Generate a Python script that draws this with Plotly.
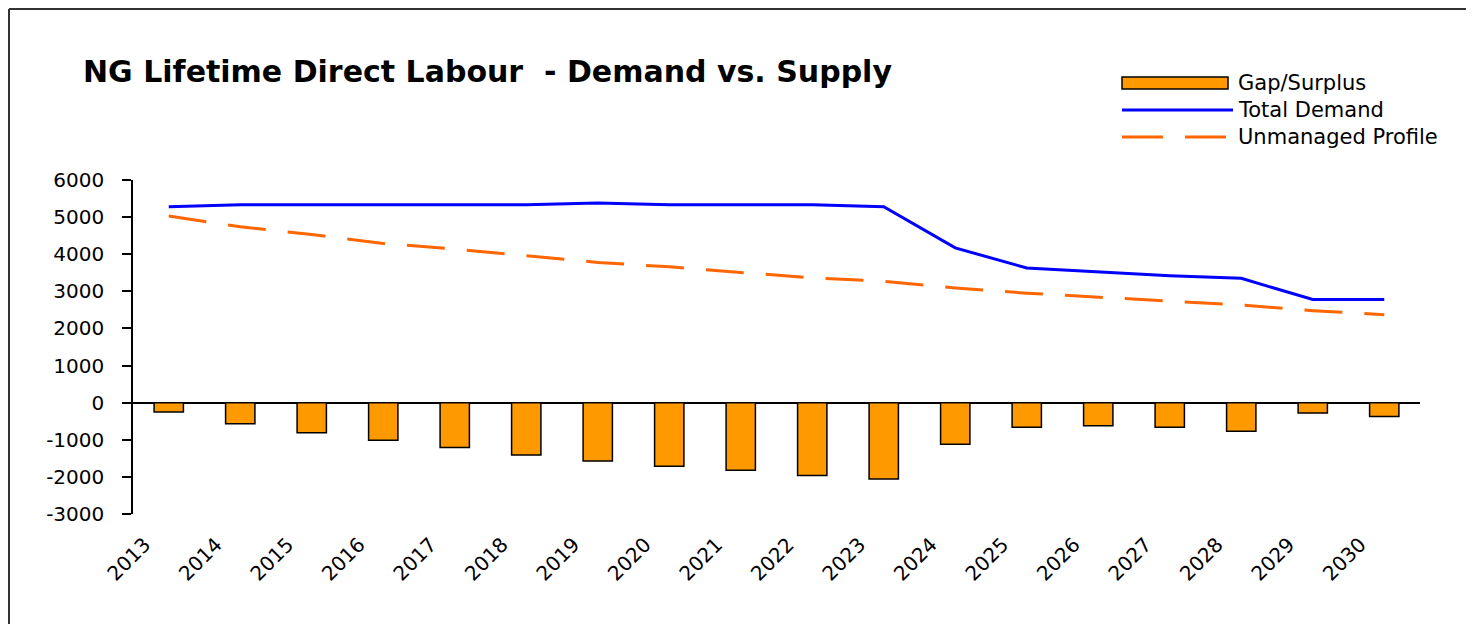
import plotly.graph_objects as go

years = [str(y) for y in range(2013, 2031)]
gap_surplus = [-250, -570, -810, -1010, -1210, -1410, -1570, -1710, -1820, -1960, -2060,
               -1120, -660, -620, -660, -770, -280, -370]
total_demand = [5280, 5330, 5330, 5330, 5330, 5330, 5380, 5330, 5330, 5330, 5280,
                4170, 3630, 3530, 3420, 3350, 2780, 2780]
unmanaged_profile = [5030, 4740, 4530, 4290, 4140, 3960, 3780, 3660, 3500, 3360, 3270,
                     3090, 2950, 2840, 2730, 2630, 2480, 2370]
y_ticks = [-3000, -2000, -1000, 0, 1000, 2000, 3000, 4000, 5000, 6000]
y_tick_labels = [str(v) for v in y_ticks]

title_text = "NG Lifetime Direct Labour  - Demand vs. Supply"
legend_names = ["Gap/Surplus", "Total Demand", "Unmanaged Profile"]

BAR_COLOR = "#FF9900"
DEMAND_COLOR = "#0000FF"
PROFILE_COLOR = "#FF6600"
FONT = "DejaVu Sans"

fig = go.Figure()
fig.add_trace(go.Bar(x=years, y=gap_surplus, name=legend_names[0],
                     marker=dict(color=BAR_COLOR, line=dict(color="black", width=1.5)),
                     showlegend=False))
fig.add_trace(go.Scatter(x=years, y=total_demand, name=legend_names[1], mode="lines",
                         line=dict(color=DEMAND_COLOR, width=3), showlegend=False))
fig.add_trace(go.Scatter(x=years, y=unmanaged_profile, name=legend_names[2], mode="lines",
                         line=dict(color=PROFILE_COLOR, width=3, dash="38px,22px"),
                         showlegend=False))

# page offset (body margin) and geometry in page pixels
OFF = 8
W, H = 1474 - OFF, 624 - OFF
PL, PR, PT, PB = 133, 1420, 180, 514   # plot area in page pixels
L, T = PL - OFF, PT - OFF
R, B = W - (PR - OFF), H - (PB - OFF)
pw, ph = PR - PL, PB - PT


def px(x):
    return (x - PL) / pw


def py(y):
    return (PB - y) / ph


shapes = [
    # outer frame
    dict(type="line", xref="paper", yref="paper", x0=px(9), x1=px(9), y0=py(9), y1=py(700),
         line=dict(color="#333333", width=2)),
    dict(type="line", xref="paper", yref="paper", x0=px(9), x1=px(1500), y0=py(9), y1=py(9),
         line=dict(color="#333333", width=2)),
    # legend swatches
    dict(type="rect", xref="paper", yref="paper", x0=px(1122), x1=px(1228), y0=py(89), y1=py(77),
         fillcolor=BAR_COLOR, line=dict(color="black", width=1.5)),
    dict(type="line", xref="paper", yref="paper", x0=px(1122), x1=px(1233), y0=py(110), y1=py(110),
         line=dict(color=DEMAND_COLOR, width=3)),
    dict(type="line", xref="paper", yref="paper", x0=px(1122), x1=px(1226), y0=py(137), y1=py(137),
         line=dict(color=PROFILE_COLOR, width=3, dash="41px,22px")),
]

annotations = [
    dict(xref="paper", yref="paper", x=px(1236), y=py(yy), text=name, showarrow=False,
         xanchor="left", yanchor="middle", font=dict(family=FONT, size=21, color="black"))
    for name, yy in zip(legend_names, [83, 110, 137])
]

fig.update_layout(
    width=W, height=H,
    margin=dict(l=L, r=R, t=T, b=B, pad=0),
    paper_bgcolor="white", plot_bgcolor="white",
    title=dict(text="<b>" + title_text + "</b>", x=(83 - OFF) / W, xanchor="left",
               y=1 - (71 - OFF) / H, yanchor="middle", xref="container", yref="container",
               font=dict(family=FONT, size=30, color="black")),
    bargap=0.59,
    shapes=shapes,
    annotations=annotations,
    showlegend=False,
    xaxis=dict(type="category", range=[-0.5, 17.5], showline=False, showgrid=False,
               zeroline=False, ticks="", tickangle=-45,
               tickfont=dict(family=FONT, size=20, color="black"),
               ticklabelshift=-24, ticklabelstandoff=14),
    yaxis=dict(range=[-3000, 6000], tickvals=y_ticks, ticktext=y_tick_labels,
               showline=True, linecolor="black", linewidth=1.5,
               ticks="outside", ticklen=9, tickcolor="black", tickwidth=1.5,
               showgrid=False, zeroline=True, zerolinecolor="black", zerolinewidth=1.5,
               tickfont=dict(family=FONT, size=20, color="black"),
               ticklabelstandoff=14),
)

fig.write_html("out.html")
